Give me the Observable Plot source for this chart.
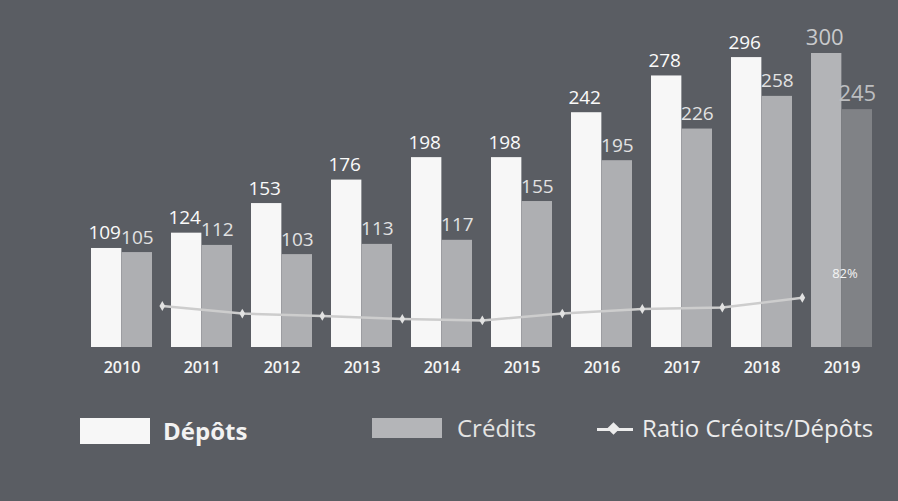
<!DOCTYPE html>
<html>
<head>
<meta charset="utf-8">
<script src="https://cdn.jsdelivr.net/npm/d3@7"></script>
<script src="https://cdn.jsdelivr.net/npm/@observablehq/plot@0.6"></script>
<style>
  html, body { margin: 0; padding: 0; background: #5a5d63; width: 898px; height: 501px; overflow: hidden; }
  #wrap { position: relative; width: 898px; height: 501px; font-family: "Open Sans", sans-serif; }
  #chart { position: absolute; left: 0; top: 0; }
  .lg { position: absolute; }
  .txt { color: #f2f2f2; line-height: 1; white-space: nowrap; }
</style>
</head>
<body>
<div id="wrap">
  <div id="chart"></div>
  <div class="lg" style="left:80px; top:418px; width:70px; height:26px; background:#f7f7f7;"></div>
  <div class="lg txt" style="left:163px; top:419px; font-size:24px; font-weight:700;">Dépôts</div>
  <div class="lg" style="left:372px; top:418px; width:70px; height:20px; background:#b4b5b8;"></div>
  <div class="lg txt" style="left:457px; top:416px; font-size:24px; color:#e4e4e4;">Crédits</div>
  <div class="lg" style="left:597px; top:428px; width:36px; height:3px; background:#ececec;"></div>
  <div class="lg" style="left:609px; top:424px; width:9px; height:9px; background:#ececec; transform:rotate(45deg);"></div>
  <div class="lg txt" style="left:642px; top:416px; font-size:24px; color:#ececec;">Ratio Créoits/Dépôts</div>
</div>
<script>
// ---- data ----
const years = ["2010","2011","2012","2013","2014","2015","2016","2017","2018","2019"];
const depots = [109, 124, 153, 176, 198, 198, 242, 278, 296, 300];
const credits = [105, 112, 103, 113, 117, 155, 195, 226, 258, 245];
const ratioPct = [71, 61, 58, 54, 52, 61, 67, 69, 82, 82];
const ratioLabelYear = "2019";

// ---- layout constants ----
const W = 898, H = 390, ML = 88, MR = 23, MT = 53, MB = 43;
const PAD = 0.24;
const step = (W - ML - MR) / (years.length - PAD);
const bw = step * (1 - PAD);
const half = bw / 2;
const BASE = 12;          // value where bars are cut at the bottom
const RATIO_K = 0.741;    // ratio % drawn on the value scale

const rows = years.map((y, i) => ({year: y, dep: depots[i], cred: credits[i], ratio: ratioPct[i]}));
const hi = y => y === "2019";
const lineRows = rows.filter(d => d.year !== ratioLabelYear);

const chart = Plot.plot({
  width: W, height: H,
  marginLeft: ML, marginRight: MR, marginTop: MT, marginBottom: MB,
  x: {domain: years, paddingInner: PAD, paddingOuter: 0, label: null},
  y: {domain: [BASE, 300], axis: null},
  style: {background: "transparent", color: "white", fontFamily: "Open Sans, sans-serif", overflow: "visible"},
  marks: [
    Plot.barY(rows, {x: "year", y1: () => BASE, y2: "dep", insetRight: half,
      fill: d => hi(d.year) ? "#b3b4b7" : "#f7f7f7"}),
    Plot.barY(rows, {x: "year", y1: () => BASE, y2: "cred", insetLeft: half,
      fill: d => hi(d.year) ? "#808286" : "#aeafb2"}),
    Plot.line(lineRows, {x: "year", y: d => d.ratio * RATIO_K, dx: step / 2,
      stroke: "#cdcdcd", strokeWidth: 2.5}),
    Plot.dot(lineRows, {x: "year", y: d => d.ratio * RATIO_K, dx: step / 2,
      symbol: "diamond", r: 3, fill: "#e2e2e2"}),
    Plot.text(rows.filter(d => d.year === ratioLabelYear), {x: "year", y: d => d.ratio * RATIO_K,
      text: d => d.ratio + "%", dx: 3, dy: -24, fill: "#f4f4f4", fontSize: 13}),
    Plot.text(rows, {x: "year", y: "dep", text: d => String(d.dep), dx: -bw / 4 - 2, dy: -9,
      lineAnchor: "bottom", fontSize: d => hi(d.year) ? 22 : 19,
      fill: d => hi(d.year) ? "#c9cacc" : "#fafafa"}),
    Plot.text(rows, {x: "year", y: "cred", text: d => String(d.cred), dx: bw / 4, dy: -9,
      lineAnchor: "bottom", fontSize: d => hi(d.year) ? 22 : 19,
      fill: d => hi(d.year) ? "#bcbdc0" : "#e2e2e2"}),
    Plot.axisX({tickSize: 0, tickPadding: 14, fontSize: 16, fontWeight: 600, fill: "#f4f4f4"})
  ]
});
document.getElementById("chart").appendChild(chart);
</script>
</body>
</html>
